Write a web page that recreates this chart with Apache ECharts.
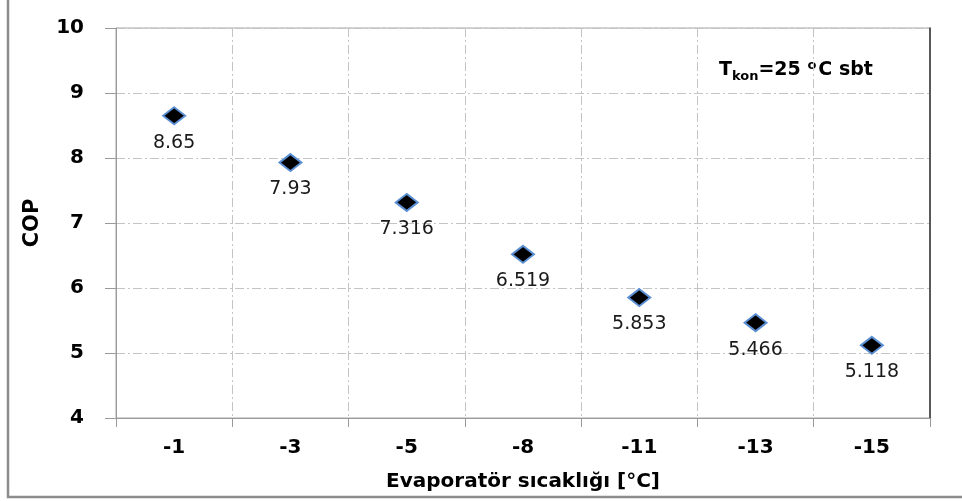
<!DOCTYPE html>
<html>
<head>
<meta charset="utf-8">
<script src="https://cdn.jsdelivr.net/npm/echarts@6/dist/echarts.min.js"></script>
<style>html,body{margin:0;padding:0;background:#fff;}#c{width:962px;height:501px;}</style>
</head>
<body>
<div id="c"></div>
<script>
var categories = ['-1', '-3', '-5', '-8', '-11', '-13', '-15'];
var copValues = [8.65, 7.93, 7.316, 6.519, 5.853, 5.466, 5.118];
var yTicks = {min: 4, max: 10, interval: 1};
var xName = 'Evaporatör sıcaklığı [°C]';
var yName = 'COP';

var FONT = 'DejaVu Sans';
var chart = echarts.init(document.getElementById('c'), null, {renderer: 'canvas'});
var dashDot = [9, 3, 2, 3];
chart.setOption({
  animation: false,
  backgroundColor: '#fff',
  grid: {left: 116, right: 32, top: 28, bottom: 83, show: true, borderColor: '#a6a6a6', borderWidth: 1},
  xAxis: [{
    type: 'category',
    data: categories,
    boundaryGap: true,
    name: xName,
    nameLocation: 'middle',
    nameGap: 54,
    nameTextStyle: {fontFamily: FONT, fontWeight: 'bold', fontSize: 20, color: '#000'},
    axisLine: {show: true, lineStyle: {color: '#9a9a9a', width: 1}},
    axisTick: {show: true, alignWithLabel: false, length: 9, lineStyle: {color: '#9a9a9a'}},
    axisLabel: {fontFamily: FONT, fontWeight: 'bold', fontSize: 20, color: '#000', margin: 20},
    splitLine: {show: true, interval: 0, lineStyle: {color: '#c4c4c4', type: dashDot, width: 1}}
  }],
  yAxis: [{
    type: 'value',
    min: yTicks.min, max: yTicks.max, interval: yTicks.interval,
    name: yName,
    nameLocation: 'middle',
    nameGap: 73,
    nameRotate: 90,
    nameTextStyle: {fontFamily: FONT, fontWeight: 'bold', fontSize: 21, color: '#000'},
    axisLine: {show: true, lineStyle: {color: '#9a9a9a', width: 1}},
    axisTick: {show: true, length: 11, lineStyle: {color: '#9a9a9a'}},
    axisLabel: {fontFamily: FONT, fontWeight: 'bold', fontSize: 20, color: '#000', margin: 32},
    splitLine: {show: true, lineStyle: {color: '#c4c4c4', type: dashDot, width: 1}}
  }, {
    type: 'value',
    position: 'right',
    min: yTicks.min, max: yTicks.max, interval: yTicks.interval,
    axisLine: {show: true, lineStyle: {color: '#333', width: 1.5}},
    axisTick: {show: false},
    axisLabel: {show: false},
    splitLine: {show: false}
  }],
  series: [{
    type: 'scatter',
    data: copValues,
    symbol: 'diamond',
    symbolSize: [22, 17],
    itemStyle: {color: '#000', opacity: 1, borderColor: '#5b8fd4', borderWidth: 2},
    label: {
      show: true,
      position: 'bottom',
      distance: 8,
      fontFamily: FONT,
      fontSize: 19,
      color: '#1a1a1a',
      formatter: function (p) { return String(p.value); }
    }
  }],
  graphic: [{
    type: 'rect',
    shape: {x: 8, y: -3, width: 960, height: 500},
    style: {fill: 'none', stroke: '#8c8c8c', lineWidth: 2.5},
    silent: true
  }, {
    type: 'text',
    left: 719,
    top: 59,
    style: {
      rich: {
        b: {fontFamily: FONT, fontWeight: 'bold', fontSize: 19, fill: '#000'},
        sub: {fontFamily: FONT, fontWeight: 'bold', fontSize: 13, fill: '#000', padding: [13, 0, 0, 0]},
        sup: {fontFamily: FONT, fontWeight: 'bold', fontSize: 13, fill: '#000', padding: [0, 2, 9, 0]}
      },
      text: '{b|T}{sub|kon}{b|=25 }{sup|o}{b|C sbt}'
    }
  }]
});
</script>
</body>
</html>
